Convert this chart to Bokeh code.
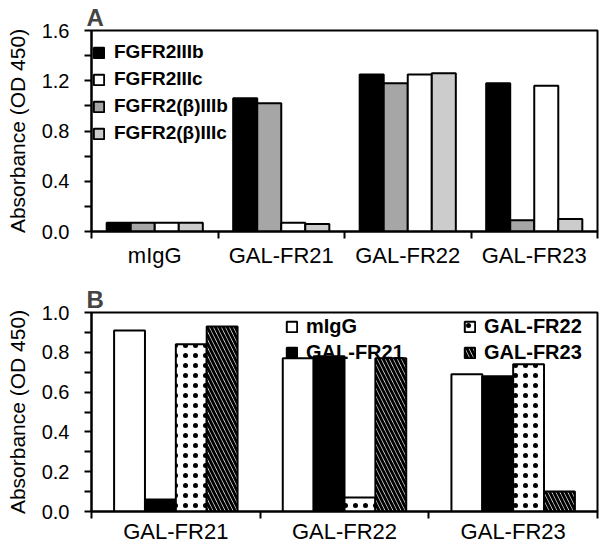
from bokeh.plotting import figure
from bokeh.models import (ColumnDataSource, Range1d, FixedTicker, Legend, LegendItem,
                          NumeralTickFormatter)
from bokeh.transform import dodge
from bokeh.layouts import column
from bokeh.embed import file_html
from bokeh.resources import INLINE

FONT = "Liberation Sans"

# ---------------- data: panel A ----------------
cats_a = ["mIgG", "GAL-FR21", "GAL-FR22", "GAL-FR23"]
fgfr2_IIIb = [0.07, 1.06, 1.25, 1.18]
fgfr2b_IIIb = [0.07, 1.02, 1.18, 0.09]
fgfr2_IIIc = [0.07, 0.07, 1.25, 1.16]
fgfr2b_IIIc = [0.07, 0.06, 1.26, 0.10]
yticks_a = [0.0, 0.4, 0.8, 1.2, 1.6]
yminor_a = [0.2, 0.6, 1.0, 1.4]

# ---------------- data: panel B ----------------
cats_b = ["GAL-FR21", "GAL-FR22", "GAL-FR23"]
b_migg = [0.91, 0.77, 0.69]
b_fr21 = [0.06, 0.78, 0.68]
b_fr22 = [0.84, 0.07, 0.74]
b_fr23 = [0.93, 0.77, 0.10]
yticks_b = [0.0, 0.2, 0.4, 0.6, 0.8, 1.0]
yminor_b = [0.1, 0.3, 0.5, 0.7, 0.9]


def style(p, cats, yt, ym, xstand):
    p.toolbar.logo = None
    p.xgrid.visible = False
    p.ygrid.visible = False
    p.outline_line_color = "black"
    p.outline_line_width = 2
    p.background_fill_color = "white"
    p.border_fill_color = "white"

    xa = p.xaxis[0]
    xa.ticker = FixedTicker(ticks=list(range(len(cats))),
                            minor_ticks=[i - 0.5 for i in range(len(cats) + 1)])
    xa.major_label_overrides = {i: c for i, c in enumerate(cats)}
    xa.axis_label = None
    xa.major_tick_out = 0
    xa.major_tick_in = 0
    xa.minor_tick_out = 7
    xa.minor_tick_in = 0
    xa.minor_tick_line_width = 2
    xa.minor_tick_line_color = "black"
    xa.axis_line_width = 2
    xa.axis_line_color = "black"
    xa.major_label_text_font = FONT
    xa.major_label_text_font_size = "22px"
    xa.major_label_text_color = "black"
    xa.major_label_standoff = xstand

    ya = p.yaxis[0]
    ya.ticker = FixedTicker(ticks=yt, minor_ticks=ym)
    ya.formatter = NumeralTickFormatter(format="0.0")
    ya.major_tick_out = 7
    ya.major_tick_in = 0
    ya.minor_tick_out = 7
    ya.minor_tick_in = 0
    ya.major_tick_line_width = 2
    ya.minor_tick_line_width = 2
    ya.major_tick_line_color = "black"
    ya.minor_tick_line_color = "black"
    ya.axis_line_width = 2
    ya.axis_line_color = "black"
    ya.major_label_text_font = FONT
    ya.major_label_text_font_size = "20px"
    ya.major_label_text_color = "black"
    ya.major_label_standoff = 15
    ya.axis_label = "Absorbance (OD 450)"
    ya.axis_label_text_font = FONT
    ya.axis_label_text_font_size = "21px"
    ya.axis_label_text_font_style = "normal"
    ya.axis_label_text_color = "black"
    ya.axis_label_standoff = 10

    p.title.text_font = FONT
    p.title.text_font_size = "24px"
    p.title.text_font_style = "bold"
    p.title.align = "left"
    p.title.standoff = 0
    p.title.offset = -5


# ---------------- panel A ----------------
pa = figure(width=600, height=270, output_backend="svg", toolbar_location=None,
            x_range=Range1d(-0.5, len(cats_a) - 0.5), y_range=Range1d(0, 1.6),
            min_border_left=91, min_border_right=3, min_border_top=30, min_border_bottom=37,
            title="A")
style(pa, cats_a, yticks_a, yminor_a, 4)

src_a = ColumnDataSource(dict(x=list(range(len(cats_a))), s1=fgfr2_IIIb, s2=fgfr2b_IIIb,
                              s3=fgfr2_IIIc, s4=fgfr2b_IIIc))
wa = 0.19
series_a = [("s1", "#000000"), ("s2", "#a6a6a6"), ("s3", "#ffffff"), ("s4", "#cccccc")]
offs_a = [-1.5 * wa, -0.5 * wa, 0.5 * wa, 1.5 * wa]
rend_a = {}
for (col, colr), off in zip(series_a, offs_a):
    rend_a[col] = pa.vbar(x=dodge("x", off, range=pa.x_range), top=col, width=wa,
                          source=src_a, fill_color=colr, line_color="black", line_width=2)

leg_a = Legend(items=[LegendItem(label="FGFR2IIIb", renderers=[rend_a["s1"]]),
                      LegendItem(label="FGFR2IIIc", renderers=[rend_a["s3"]]),
                      LegendItem(label="FGFR2(β)IIIb", renderers=[rend_a["s2"]]),
                      LegendItem(label="FGFR2(β)IIIc", renderers=[rend_a["s4"]])],
               location=(1, 87), orientation="vertical")
leg_a.glyph_width = 13
leg_a.glyph_height = 13
leg_a.label_standoff = 9
leg_a.spacing = 5
leg_a.padding = 0
leg_a.margin = 0
leg_a.border_line_color = None
leg_a.background_fill_alpha = 0
leg_a.label_text_font = FONT
leg_a.label_text_font_size = "19px"
leg_a.label_text_font_style = "bold"
leg_a.label_text_color = "black"
pa.add_layout(leg_a, "center")

# ---------------- panel B ----------------
pb = figure(width=600, height=276, output_backend="svg", toolbar_location=None,
            x_range=Range1d(-0.5, len(cats_b) - 0.5), y_range=Range1d(0, 1.0),
            min_border_left=91, min_border_right=3, min_border_top=42, min_border_bottom=33,
            title="B")
style(pb, cats_b, yticks_b, yminor_b, 0)

src_b = ColumnDataSource(dict(x=list(range(len(cats_b))), m=b_migg, f1=b_fr21, f2=b_fr22, f3=b_fr23))
wb = 0.183
offs_b = [-1.5 * wb, -0.5 * wb, 0.5 * wb, 1.5 * wb]
rb1 = pb.vbar(x=dodge("x", offs_b[0], range=pb.x_range), top="m", width=wb, source=src_b,
              fill_color="white", line_color="black", line_width=2)
rb2 = pb.vbar(x=dodge("x", offs_b[1], range=pb.x_range), top="f1", width=wb, source=src_b,
              fill_color="black", line_color="black", line_width=2)
rb3 = pb.vbar(x=dodge("x", offs_b[2], range=pb.x_range), top="f2", width=wb, source=src_b,
              fill_color="white", line_color="black", line_width=2,
              hatch_pattern="dot", hatch_color="black", hatch_scale=10, hatch_weight=1)
rb4 = pb.vbar(x=dodge("x", offs_b[3], range=pb.x_range), top="f3", width=wb, source=src_b,
              fill_color="white", line_color="black", line_width=2,
              hatch_pattern="left_diagonal_line", hatch_color="black", hatch_scale=8, hatch_weight=3)


def make_leg(items, loc):
    lg = Legend(items=items, location=loc, orientation="vertical")
    lg.glyph_width = 13
    lg.glyph_height = 13
    lg.label_standoff = 8
    lg.spacing = 3
    lg.padding = 0
    lg.margin = 0
    lg.border_line_color = None
    lg.background_fill_alpha = 0
    lg.label_text_font = FONT
    lg.label_text_font_size = "20px"
    lg.label_text_font_style = "bold"
    lg.label_text_color = "black"
    return lg


pb.add_layout(make_leg([LegendItem(label="mIgG", renderers=[rb1]),
                        LegendItem(label="GAL-FR21", renderers=[rb2])], (194, 147)), "center")
pb.add_layout(make_leg([LegendItem(label="GAL-FR22", renderers=[rb3]),
                        LegendItem(label="GAL-FR23", renderers=[rb4])], (372, 147)), "center")

layout = column(pa, pb, spacing=0)
open("out.html", "w").write(file_html(layout, INLINE))
